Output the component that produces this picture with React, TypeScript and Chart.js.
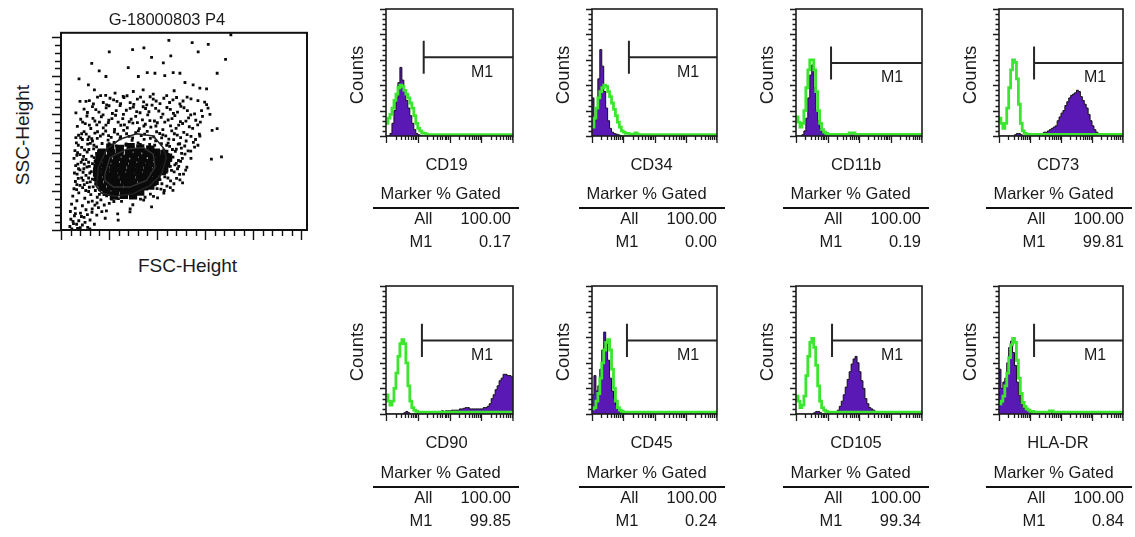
import React, { useEffect, useRef } from "react";
import { Chart, registerables } from "chart.js";
Chart.register(...registerables);

const FONT = '"Liberation Sans", Arial, Helvetica, sans-serif';
const TEXT = "#1a1a1a";
const PURPLE = "#5a18b4";
const GREEN = "#3ce62e";

// ---------- Scatter (FSC-Height vs SSC-Height), channel units 0..1024 ----------
const SCATTER_TITLE = "G-18000803 P4";
const SCATTER_X_LABEL = "FSC-Height";
const SCATTER_Y_LABEL = "SSC-Height";

const sparseEvents: [number, number][] = [
  [707, 1014], [449, 985], [546, 973], [613, 964], [201, 925], [298, 937], [345, 946], [377, 896],
  [571, 925], [457, 904], [426, 868], [685, 886], [128, 865], [75, 785], [159, 826], [187, 797],
  [280, 843], [322, 797], [359, 817], [391, 814], [432, 802], [467, 817], [495, 814], [650, 814],
  [516, 766], [550, 754], [578, 737], [606, 733], [471, 723], [114, 754], [139, 728], [186, 699],
  [225, 711], [259, 694], [301, 719], [342, 728], [384, 706], [606, 651], [620, 600], [62, 608],
  [79, 668], [104, 668], [578, 488], [629, 517], [650, 526], [626, 368], [668, 380], [238, 51],
  [287, 94], [377, 120],
];

const clusterEvents: [number, number][] = [
  [118, 672], [152, 690], [176, 662], [204, 684], [233, 668], [262, 688], [288, 661], [318, 680],
  [344, 665], [371, 692], [396, 670], [428, 684], [452, 662], [481, 688], [508, 670], [541, 681], [598, 664],
  [96, 628], [131, 641], [158, 612], [188, 634], [214, 605], [246, 646], [272, 622], [301, 638],
  [329, 609], [352, 631], [379, 648], [407, 618], [441, 636], [468, 606], [499, 642], [526, 620], [556, 603], [612, 633],
  [82, 575], [108, 592], [141, 566], [168, 588], [199, 570], [227, 596], [257, 578], [284, 562],
  [311, 590], [339, 572], [361, 598], [389, 566], [417, 585], [446, 571], [474, 594], [497, 563], [531, 582], [561, 570], [589, 590],
  [68, 538], [101, 552], [124, 527], [149, 546], [176, 530], [197, 558], [223, 522], [249, 544],
  [276, 531], [299, 555], [326, 526], [351, 549], [374, 534], [401, 557], [424, 521], [456, 541], [479, 528], [506, 553], [534, 536], [569, 546],
  [73, 492], [96, 511], [117, 484], [141, 503], [164, 488], [186, 514], [209, 481], [236, 498],
  [261, 517], [284, 486], [311, 505], [334, 490], [359, 512], [386, 484], [411, 501], [436, 489], [461, 515], [484, 493], [511, 507], [541, 486], [576, 498],
  [64, 452], [89, 470], [111, 446], [131, 462], [151, 476], [171, 449], [196, 467], [221, 455],
  [246, 474], [271, 447], [296, 466], [321, 452], [346, 471], [369, 444], [394, 463], [419, 478], [446, 451], [469, 469], [494, 448], [521, 462], [551, 455],
  [58, 412], [86, 429], [109, 405], [136, 421], [428, 416], [452, 434], [476, 408], [501, 425], [529, 411], [556, 430], [230, 436], [300, 432], [360, 430],
  [54, 372], [79, 391], [104, 366], [128, 384], [148, 398], [466, 378], [489, 361], [516, 394], [541, 372],
  [61, 334], [84, 352], [108, 327], [131, 345], [474, 338], [498, 356], [524, 326], [490, 330],
  [56, 296], [79, 312], [104, 284], [126, 303], [471, 302], [494, 289], [519, 311],
  [60, 252], [86, 271], [109, 246], [131, 264], [432, 276], [456, 255], [481, 268], [506, 245],
  [54, 214], [79, 232], [103, 205], [134, 224], [392, 234], [416, 212], [441, 228], [466, 206],
  [49, 176], [74, 193], [99, 165], [124, 184], [151, 170], [178, 196], [239, 163], [291, 172], [331, 160], [372, 186], [402, 167], [428, 192],
  [44, 134], [66, 152], [89, 126], [114, 145], [141, 129], [166, 156], [201, 138], [252, 149], [299, 131], [344, 155],
  [39, 96], [59, 113], [81, 88], [104, 105], [129, 92], [156, 116], [189, 99], [236, 84], [288, 110],
  [41, 56], [56, 74], [74, 48], [96, 66], [121, 52], [149, 77], [184, 61],
  [37, 18], [52, 33], [69, 8], [89, 26], [111, 14], [139, 30],
  [66, 236], [92, 258], [118, 222], [73, 318], [97, 342], [120, 296], [69, 402], [94, 382],
  [116, 418], [142, 356], [146, 280], [144, 240], [62, 480], [86, 500], [112, 470], [137, 440],
  [412, 262], [438, 300], [455, 330], [427, 352], [446, 392], [418, 448], [480, 420], [502, 398],
];

const clusterEvents2: [number, number][] = [
  [135, 655], [165, 698], [190, 650], [219, 676], [248, 656], [275, 697], [303, 652], [331, 690],
  [357, 650], [384, 680], [412, 656], [440, 698], [466, 676], [495, 655], [525, 690], [570, 672],
  [110, 610], [145, 625], [175, 598], [200, 645], [230, 620], [260, 600], [288, 632], [315, 615],
  [342, 640], [366, 614], [394, 632], [424, 602], [455, 626], [485, 612], [512, 635], [540, 598], [585, 620],
  [90, 560], [118, 545], [133, 580], [160, 560], [187, 545], [212, 578], [238, 560], [264, 546],
  [292, 575], [318, 558], [345, 540], [370, 568], [395, 540], [432, 560], [462, 578], [490, 545], [520, 565], [548, 528], [580, 560],
  [82, 478], [105, 498], [128, 474], [152, 510], [175, 498], [198, 490], [222, 508], [248, 485],
  [273, 500], [298, 478], [322, 515], [348, 498], [372, 476], [398, 510], [424, 494], [449, 472], [472, 500], [498, 480], [525, 495], [560, 470],
  [72, 440], [98, 416], [122, 450], [148, 432], [156, 410], [440, 440], [464, 418], [488, 446],
  [515, 436], [540, 410], [570, 440], [200, 448], [270, 440], [330, 445], [390, 440],
  [66, 388], [90, 365], [115, 352], [138, 376], [70, 342], [95, 318], [118, 330], [140, 318],
  [67, 290], [92, 300], [115, 270], [139, 290], [72, 268], [97, 236], [122, 250], [140, 262],
  [65, 210], [90, 220], [115, 200], [143, 205],
  [455, 360], [480, 346], [505, 372], [460, 310], [485, 318], [510, 290], [445, 270], [470, 240],
  [495, 260], [420, 240], [400, 215], [430, 205], [455, 220],
  [160, 185], [190, 178], [210, 160], [230, 180], [270, 168], [310, 175], [350, 170], [385, 175],
  [130, 150], [150, 140], [180, 130], [220, 148], [60, 85], [85, 70], [110, 80], [130, 110],
  [170, 95], [50, 45], [65, 30], [100, 40], [45, 5], [80, 12], [120, 5],
];

const coreEvents: [number, number][] = [
  [205, 428], [245, 422], [290, 430], [330, 424], [372, 418],
  [170, 402], [208, 398], [244, 405], [282, 396], [318, 404], [355, 399], [395, 402], [430, 395],
  [160, 376], [195, 371], [232, 379], [268, 370], [305, 377], [340, 372], [378, 380], [412, 371], [446, 376],
  [156, 348], [190, 354], [226, 346], [262, 352], [298, 345], [334, 351], [368, 347], [404, 353], [438, 346],
  [152, 322], [186, 328], [221, 320], [256, 327], [292, 319], [327, 326], [362, 321], [398, 328], [430, 320],
  [150, 298], [184, 302], [218, 295], [252, 303], [288, 296], [322, 301], [357, 294], [392, 300], [420, 305],
  [154, 272], [189, 278], [224, 270], [259, 277], [293, 271], [328, 276], [363, 269], [398, 276],
  [160, 247], [196, 253], [231, 245], [266, 252], [301, 246], [336, 251], [370, 244], [390, 255],
  [172, 222], [208, 228], [243, 220], [278, 227], [312, 221], [346, 226], [372, 230],
  [190, 198], [226, 203], [262, 196], [296, 202], [330, 199],
  [220, 178], [262, 182], [300, 180],
];

const contourOuter: [number, number][] = [
  [148, 223], [155, 325], [190, 420], [245, 471], [315, 500], [384, 488], [425, 428], [439, 377],
  [419, 291], [370, 231], [301, 188], [225, 175], [169, 192], [148, 223],
];
const contourInner: [number, number][] = [
  [183, 291], [204, 377], [273, 420], [342, 428], [384, 394], [391, 325], [356, 257], [287, 223],
  [218, 223], [183, 257], [183, 291],
];

// ---------- Histograms: 64 channels over 4 log decades, counts scaled 0..100 ----------
const MARKERS = ["CD19", "CD34", "CD11b", "CD73", "CD90", "CD45", "CD105", "HLA-DR"];
const ALL_PERCENT = ["100.00", "100.00", "100.00", "100.00", "100.00", "100.00", "100.00", "100.00"];
const M1_PERCENT = ["0.17", "0.00", "0.19", "99.81", "99.85", "0.24", "99.34", "0.84"];
const GATE_START = [19, 18.9, 17.8, 18.1, 18.1, 17.9, 18.3, 18.1];
const GATE_END = [64, 64, 64, 64, 64, 64, 64, 64];
const GATE_LEVEL = [62, 62, 57.5, 57.5, 57.5, 57.5, 57.5, 57.5];
const GATE_HALF = 13;

const CD19_STAINED = [
  0, 0, 2, 10, 20, 30, 42, 54, 44, 36, 28, 22, 16, 10, 5, 2,
  1, 0.5, 0, 0, 0, 0, 0, 0, 0, 0, 0, 0, 0, 0, 0, 0,
  0, 0, 0, 0, 0, 0, 0, 0, 0, 0, 0, 0, 0, 0, 0, 0,
  0, 0, 0, 0, 0, 0, 0, 0, 0, 0, 0, 0, 0, 0, 0, 0,
];
const CD19_CONTROL = [
  10, 14, 17, 22, 28, 33, 38, 40, 39, 36, 33, 30, 26, 22, 16, 10,
  6, 4, 2.5, 2, 1.5, 1, 1, 1, 1, 1, 1, 1, 1, 1, 1, 1,
  1, 1, 1, 1, 1, 1, 1, 1, 1, 1, 1, 1, 1, 1, 1, 1,
  1, 1, 1, 1, 1, 1, 1, 1, 1, 1, 1, 1, 1, 1, 1, 1,
];
const CD34_STAINED = [
  30, 12, 22, 45, 68, 55, 35, 22, 12, 6, 3, 2, 1.5, 1, 0.5, 0,
  0, 0, 0, 0, 0, 0, 0, 0, 0, 0, 0, 0, 0, 0, 0, 0,
  0, 0, 0, 0, 0, 0, 0, 0, 0, 0, 0, 0, 0, 0, 0, 0,
  0, 0, 0, 0, 0, 0, 0, 0, 0, 0, 0, 0, 0, 0, 0, 0,
];
const CD34_CONTROL = [
  7, 14, 22, 30, 35, 38, 40, 39, 35, 31, 26, 21, 16, 11, 7, 4,
  3, 2, 2, 1.5, 1.5, 1.5, 2.5, 1.5, 1, 1, 1, 1, 1, 1, 1, 1,
  1, 1, 1, 1, 1, 1, 1, 1, 1, 1, 1, 1, 1, 1, 1, 1,
  1, 1, 1, 1, 1, 1, 1, 1, 1, 1, 1, 1, 1, 1, 1, 1,
];
const CD11B_STAINED = [
  0, 0, 0, 1, 4, 14, 30, 48, 56, 38, 20, 12, 6, 3, 2, 1,
  0.5, 0, 0, 0, 0, 0, 0, 0, 0, 0, 0, 0.8, 0.8, 0.8, 0, 0,
  0, 0, 0, 0, 0, 0, 0, 0, 0, 0, 0, 0, 0, 0, 0, 0,
  0, 0, 0, 0, 0, 0, 0, 0, 0, 0, 0, 0, 0, 0, 0, 0,
];
const CD11B_CONTROL = [
  15, 11, 7, 10, 20, 38, 52, 60, 60, 52, 35, 20, 10, 5, 3, 2,
  1.3, 1.3, 1.3, 1.3, 1.3, 1.3, 1.3, 1.3, 1.3, 1.3, 1.3, 2.5, 2.5, 2.5, 1.3, 1.3,
  1.3, 1.3, 1.3, 1.3, 1.3, 1.3, 1.3, 1.3, 1.3, 1.3, 1.3, 1.3, 1.3, 1.3, 1.3, 1.3,
  1.3, 1.3, 1.3, 1.3, 1.3, 1.3, 1.3, 1.3, 1.3, 1.3, 1.3, 1.3, 1.3, 1.3, 1.3, 1.3,
];
const CD73_STAINED = [
  0, 0, 0, 0, 0, 0, 0, 0, 1, 2, 2, 1, 0, 0, 0, 0,
  0, 0, 0, 1, 1, 2, 2, 3, 3, 4, 5, 6, 7, 8, 12, 15,
  18, 20, 24, 27, 30, 32, 33, 34, 36, 35, 31, 28, 25, 22, 17, 12,
  8, 5, 3, 2, 1, 0, 0, 0, 0, 0, 0, 0, 0, 0, 0, 0,
];
const CD73_CONTROL = [
  14, 10, 6, 10, 22, 38, 52, 60, 58, 45, 25, 10, 4, 2, 1.5, 1.3,
  1.3, 1.3, 1.3, 1.3, 1.3, 1.3, 1.3, 1.3, 1.3, 1.3, 1.3, 1.3, 1.3, 1.3, 1.3, 1.3,
  1.3, 1.3, 1.3, 1.3, 1.3, 1.3, 1.3, 1.3, 1.3, 1.3, 1.3, 1.3, 1.3, 1.3, 1.3, 1.3,
  1.3, 1.3, 1.3, 1.3, 1.3, 1.3, 1.3, 1.3, 1.3, 1.3, 1.3, 1.3, 1.3, 1.3, 1.3, 1.3,
];
const CD90_STAINED = [
  0, 0, 0, 0, 0, 0, 0, 0, 0, 1, 2, 1, 0, 0, 0, 0,
  0, 0, 0, 0, 0, 0, 1.5, 1.5, 2, 1.5, 2, 2, 2.5, 2, 2.5, 2.5,
  2.5, 3, 3, 3, 3, 4, 4, 4.5, 5, 5, 4, 4, 4, 4, 4, 4,
  4, 5, 5, 6, 8, 12, 15, 19, 22, 26, 28, 31, 31, 30, 30, 29,
];
const CD90_CONTROL = [
  15, 10, 7, 10, 20, 32, 45, 55, 58, 55, 40, 22, 10, 5, 3, 2,
  1.4, 1.4, 1.4, 1.4, 1.4, 1.4, 1.4, 1.4, 1.4, 1.4, 1.4, 1.4, 1.4, 1.4, 1.4, 1.4,
  1.4, 1.4, 1.4, 1.4, 1.4, 1.4, 1.4, 1.4, 1.4, 1.4, 1.4, 1.4, 1.4, 1.4, 1.4, 1.4,
  1.4, 1.4, 1.4, 1.4, 1.4, 1.4, 1.4, 1.4, 1.4, 1.4, 1.4, 1.4, 1.4, 1.4, 1.4, 1.4,
];
const CD45_STAINED = [
  15, 30, 18, 22, 35, 50, 64, 55, 42, 28, 18, 12, 7, 4, 3, 2,
  1, 1, 0, 0, 0, 0, 0, 0, 0, 0, 0, 0, 0, 0, 0, 0,
  0, 0, 0, 0, 0, 0, 0, 0, 1, 0, 0, 0, 0, 0, 0, 0,
  0, 0, 1, 0, 0, 0, 1, 0, 1, 0, 1, 0, 1, 0, 1, 0,
];
const CD45_CONTROL = [
  4, 5, 10, 16, 28, 40, 50, 56, 58, 50, 35, 20, 10, 5, 3, 2,
  1.4, 1.4, 1.4, 1.4, 1.4, 1.4, 1.4, 1.4, 1.4, 1.4, 1.4, 1.4, 1.4, 1.4, 1.4, 1.4,
  1.4, 1.4, 1.4, 1.4, 1.4, 1.4, 1.4, 1.4, 1.4, 1.4, 1.4, 1.4, 1.4, 1.4, 1.4, 1.4,
  1.4, 1.4, 1.4, 1.4, 1.4, 1.4, 1.4, 1.4, 1.4, 1.4, 1.4, 1.4, 1.4, 1.4, 1.4, 1.4,
];
const CD105_STAINED = [
  0, 0, 0, 0, 0, 0, 0, 0, 0, 1, 2, 2, 1, 0, 0, 0,
  0, 0, 0, 0, 1, 3, 6, 10, 15, 21, 27, 33, 39, 43, 45, 40,
  33, 26, 20, 12, 8, 5, 4, 3, 2, 1, 0, 0, 0, 0, 0, 0,
  0, 0, 0, 0, 0, 0, 0, 0, 0, 0, 0, 0, 0, 0, 0, 0,
];
const CD105_CONTROL = [
  14, 10, 5, 7, 14, 30, 45, 56, 59, 52, 38, 22, 10, 5, 3, 2,
  1.4, 1.4, 1.4, 1.4, 1.4, 1.4, 1.4, 1.4, 1.4, 1.4, 1.4, 1.4, 1.4, 1.4, 1.4, 1.4,
  1.4, 1.4, 1.4, 1.4, 1.4, 1.4, 1.4, 1.4, 1.4, 1.4, 1.4, 1.4, 1.4, 1.4, 1.4, 1.4,
  1.4, 1.4, 1.4, 1.4, 1.4, 1.4, 1.4, 1.4, 1.4, 1.4, 1.4, 1.4, 1.4, 1.4, 1.4, 1.4,
];
const HLADR_STAINED = [
  35, 20, 25, 28, 40, 52, 57, 48, 38, 25, 15, 9, 6, 4, 3, 2,
  2, 2, 1, 0, 1, 0, 1, 0, 0, 1, 0, 1, 0, 0, 0, 0,
  0, 0, 0, 0, 0, 0, 0, 0, 0, 0, 0, 0, 0, 0, 0, 0,
  0, 0, 0, 0, 0, 0, 0, 0, 0, 0, 0, 0, 0, 0, 0, 0,
];
const HLADR_CONTROL = [
  8, 10, 14, 22, 32, 44, 54, 59, 56, 42, 28, 16, 9, 6, 4, 3,
  2, 2, 1.5, 1.5, 1.5, 1.5, 1.5, 1.5, 1.5, 1.5, 2.5, 2.5, 1.5, 1.5, 1.5, 1.5,
  1.4, 1.4, 1.4, 1.4, 1.4, 1.4, 1.4, 1.4, 1.4, 1.4, 1.4, 1.4, 1.4, 1.4, 1.4, 1.4,
  1.4, 1.4, 1.4, 1.4, 1.4, 1.4, 1.4, 1.4, 1.4, 1.4, 1.4, 1.4, 1.4, 1.4, 1.4, 1.4,
];

const STAINED = [CD19_STAINED, CD34_STAINED, CD11B_STAINED, CD73_STAINED, CD90_STAINED, CD45_STAINED, CD105_STAINED, HLADR_STAINED];
const CONTROL = [CD19_CONTROL, CD34_CONTROL, CD11B_CONTROL, CD73_CONTROL, CD90_CONTROL, CD45_CONTROL, CD105_CONTROL, HLADR_CONTROL];

// ---------- Layout (page pixels) ----------
const COL_L = [386, 592, 796, 999];
const COL_R = [513, 717, 922, 1123];
const ROW_T = [9, 286];
const ROW_B = [136, 414];
const TABLE_Y = [193, 472];
const SC = { left: 61, top: 31, right: 307, bottom: 230 };

const histFrame = {
  id: "histFrame",
  afterDatasetsDraw(chart: any) {
    const { ctx, chartArea: a, scales } = chart;
    const x = scales.x;
    const y = scales.y;
    ctx.save();
    ctx.strokeStyle = "#1c1c1c";
    ctx.lineWidth = 1.3;
    ctx.beginPath();
    for (let d = 0; d < 4; d++) {
      for (let m = 1; m < 10; m++) {
        const px = Math.round(x.getPixelForValue(16 * (d + Math.log10(m)))) + 0.5;
        const len = m === 1 ? 7 : 4;
        ctx.moveTo(px, a.bottom);
        ctx.lineTo(px, a.bottom + len);
      }
    }
    const pxEnd = x.getPixelForValue(64);
    ctx.moveTo(pxEnd, a.bottom);
    ctx.lineTo(pxEnd, a.bottom + 7);
    for (let v = 0; v <= 100; v += 4) {
      const py = Math.round(y.getPixelForValue(v)) + 0.5;
      const len = v % 20 === 0 ? 6 : 3.5;
      ctx.moveTo(a.left, py);
      ctx.lineTo(a.left - len, py);
    }
    ctx.stroke();
    ctx.lineWidth = 1.6;
    ctx.strokeRect(a.left, a.top, a.right - a.left, a.bottom - a.top);
    ctx.restore();
  },
};

const scatterFrame = {
  id: "scatterFrame",
  afterDatasetsDraw(chart: any) {
    const { ctx, chartArea: a, scales } = chart;
    const x = scales.x;
    const y = scales.y;
    ctx.save();
    ctx.strokeStyle = "#111";
    ctx.lineWidth = 1.4;
    ctx.beginPath();
    for (let v = 0; v <= 1000; v += 40) {
      const len = v % 200 === 0 ? 10 : 6;
      const px = Math.round(x.getPixelForValue(v)) + 0.5;
      ctx.moveTo(px, a.bottom);
      ctx.lineTo(px, a.bottom + len);
      const py = Math.round(y.getPixelForValue(v)) + 0.5;
      ctx.moveTo(a.left, py);
      ctx.lineTo(a.left - (v % 200 === 0 ? 9 : 6), py);
    }
    ctx.stroke();
    ctx.lineWidth = 2;
    ctx.strokeRect(a.left, a.top, a.right - a.left, a.bottom - a.top);
    ctx.restore();
  },
};

const pts = (arr: [number, number][]) => arr.map(([x, y]) => ({ x, y }));

function scatterConfig(): any {
  const dot = { pointStyle: "rect", pointRadius: 2, backgroundColor: "#0a0a0a", borderWidth: 0 };
  return {
    type: "scatter",
    data: {
      datasets: [
        { label: "contour inner", data: pts(contourInner), showLine: true, borderColor: "#333", borderWidth: 1.4, pointRadius: 0, fill: false },
        { label: "contour outer", data: pts(contourOuter), showLine: true, borderColor: "#222", borderWidth: 1.6, pointRadius: 0, fill: false },
        { label: "core", data: pts(coreEvents), pointStyle: "rect", pointRadius: 5.8, backgroundColor: "#0a0a0a", borderWidth: 0 },
        { label: "events", data: pts(clusterEvents), ...dot },
        { label: "events 2", data: pts(clusterEvents2), ...dot },
        { label: "sparse", data: pts(sparseEvents), ...dot },
      ],
    },
    options: {
      animation: false,
      responsive: false,
      events: [],
      layout: { padding: { left: 14, top: 4, right: 6, bottom: 13 } },
      plugins: { legend: { display: false }, tooltip: { enabled: false } },
      scales: {
        x: { type: "linear", min: 0, max: 1024, display: false },
        y: { type: "linear", min: 0, max: 1024, display: false },
      },
    },
    plugins: [scatterFrame],
  };
}

function histConfig(i: number): any {
  const steps = (arr: number[]) => [...arr.map((v, k) => ({ x: k, y: v })), { x: arr.length, y: arr[arr.length - 1] }];
  const g0 = GATE_START[i];
  const gl = GATE_LEVEL[i];
  return {
    type: "line",
    data: {
      datasets: [
        {
          label: "M1",
          data: [
            { x: g0, y: gl + GATE_HALF },
            { x: g0, y: gl - GATE_HALF },
            { x: g0, y: gl },
            { x: GATE_END[i], y: gl },
          ],
          borderColor: "#262626",
          borderWidth: 2,
          pointRadius: 0,
          fill: false,
          order: 0,
        },
        {
          label: "control",
          data: steps(CONTROL[i]),
          borderColor: GREEN,
          borderWidth: 2.8,
          stepped: true,
          pointRadius: 0,
          fill: false,
          order: 1,
        },
        {
          label: MARKERS[i],
          data: steps(STAINED[i]),
          borderColor: "#111",
          borderWidth: 1,
          backgroundColor: PURPLE,
          stepped: true,
          pointRadius: 0,
          fill: "origin",
          order: 2,
        },
      ],
    },
    options: {
      animation: false,
      responsive: false,
      events: [],
      layout: { padding: { left: 12, top: 4, right: 4, bottom: 12 } },
      plugins: { legend: { display: false }, tooltip: { enabled: false } },
      scales: {
        x: { type: "linear", min: 0, max: 64, display: false },
        y: { type: "linear", min: 0, max: 100, display: false },
      },
    },
    plugins: [histFrame],
  };
}

type LabelProps = { x: number; y: number; text: string; size: number; align?: "center" | "right"; rotate?: boolean };
function Label({ x, y, text, size, align = "center", rotate = false }: LabelProps) {
  const tx = align === "center" ? "-50%" : "-100%";
  return (
    <div
      style={{
        position: "absolute",
        left: x,
        top: y,
        transform: `translate(${tx}, -50%)` + (rotate ? " rotate(-90deg)" : ""),
        fontFamily: FONT,
        fontSize: size,
        lineHeight: 1,
        color: TEXT,
        whiteSpace: "nowrap",
      }}
    >
      {text}
    </div>
  );
}

export default function App() {
  const scatterRef = useRef<HTMLCanvasElement | null>(null);
  const histRefs = useRef<(HTMLCanvasElement | null)[]>([]);

  useEffect(() => {
    const charts: Chart[] = [];
    if (scatterRef.current) charts.push(new Chart(scatterRef.current, scatterConfig()));
    histRefs.current.forEach((c, i) => {
      if (c) charts.push(new Chart(c, histConfig(i)));
    });
    return () => charts.forEach((c) => c.destroy());
  }, []);

  const scW = SC.right - SC.left + 20;
  const scH = SC.bottom - SC.top + 17;

  return (
    <div style={{ position: "absolute", left: 0, top: 0, width: 1135, height: 537, background: "#fff", overflow: "hidden" }}>
      <canvas
        ref={scatterRef}
        width={scW}
        height={scH}
        style={{ position: "absolute", left: SC.left - 14, top: SC.top - 4, width: scW, height: scH }}
      />
      <Label x={167} y={18.5} text={SCATTER_TITLE} size={16.5} />
      <Label x={21.5} y={135} text={SCATTER_Y_LABEL} size={19} rotate />
      <Label x={187.5} y={265} text={SCATTER_X_LABEL} size={19} />

      {MARKERS.map((name, i) => {
        const col = i % 4;
        const row = Math.floor(i / 4);
        const L = COL_L[col];
        const R = COL_R[col];
        const T = ROW_T[row];
        const B = ROW_B[row];
        const w = R - L + 16;
        const h = B - T + 16;
        const hy = TABLE_Y[row];
        const gateY = B - (GATE_LEVEL[i] / 100) * (B - T);
        return (
          <React.Fragment key={name}>
            <canvas
              ref={(el) => {
                histRefs.current[i] = el;
              }}
              width={w}
              height={h}
              style={{ position: "absolute", left: L - 12, top: T - 4, width: w, height: h }}
            />
            <Label x={L + 96} y={gateY + 14.5} text="M1" size={16} />
            <Label x={L - 29.5} y={(T + B) / 2 + 2} text="Counts" size={18.5} rotate />
            <Label x={(L + R) / 2 - 3} y={B + 27.5} text={name} size={16.5} />
            <Label x={L + 54.5} y={hy} text="Marker % Gated" size={16.5} />
            <div style={{ position: "absolute", left: L - 13, top: hy + 13.5, width: 146, height: 2, background: "#111" }} />
            <Label x={L + 46.5} y={hy + 24.5} text="All" size={16.5} align="right" />
            <Label x={L + 125} y={hy + 24.5} text={ALL_PERCENT[i]} size={16.5} align="right" />
            <Label x={L + 46.5} y={hy + 48} text="M1" size={16.5} align="right" />
            <Label x={L + 125} y={hy + 48} text={M1_PERCENT[i]} size={16.5} align="right" />
          </React.Fragment>
        );
      })}
    </div>
  );
}
